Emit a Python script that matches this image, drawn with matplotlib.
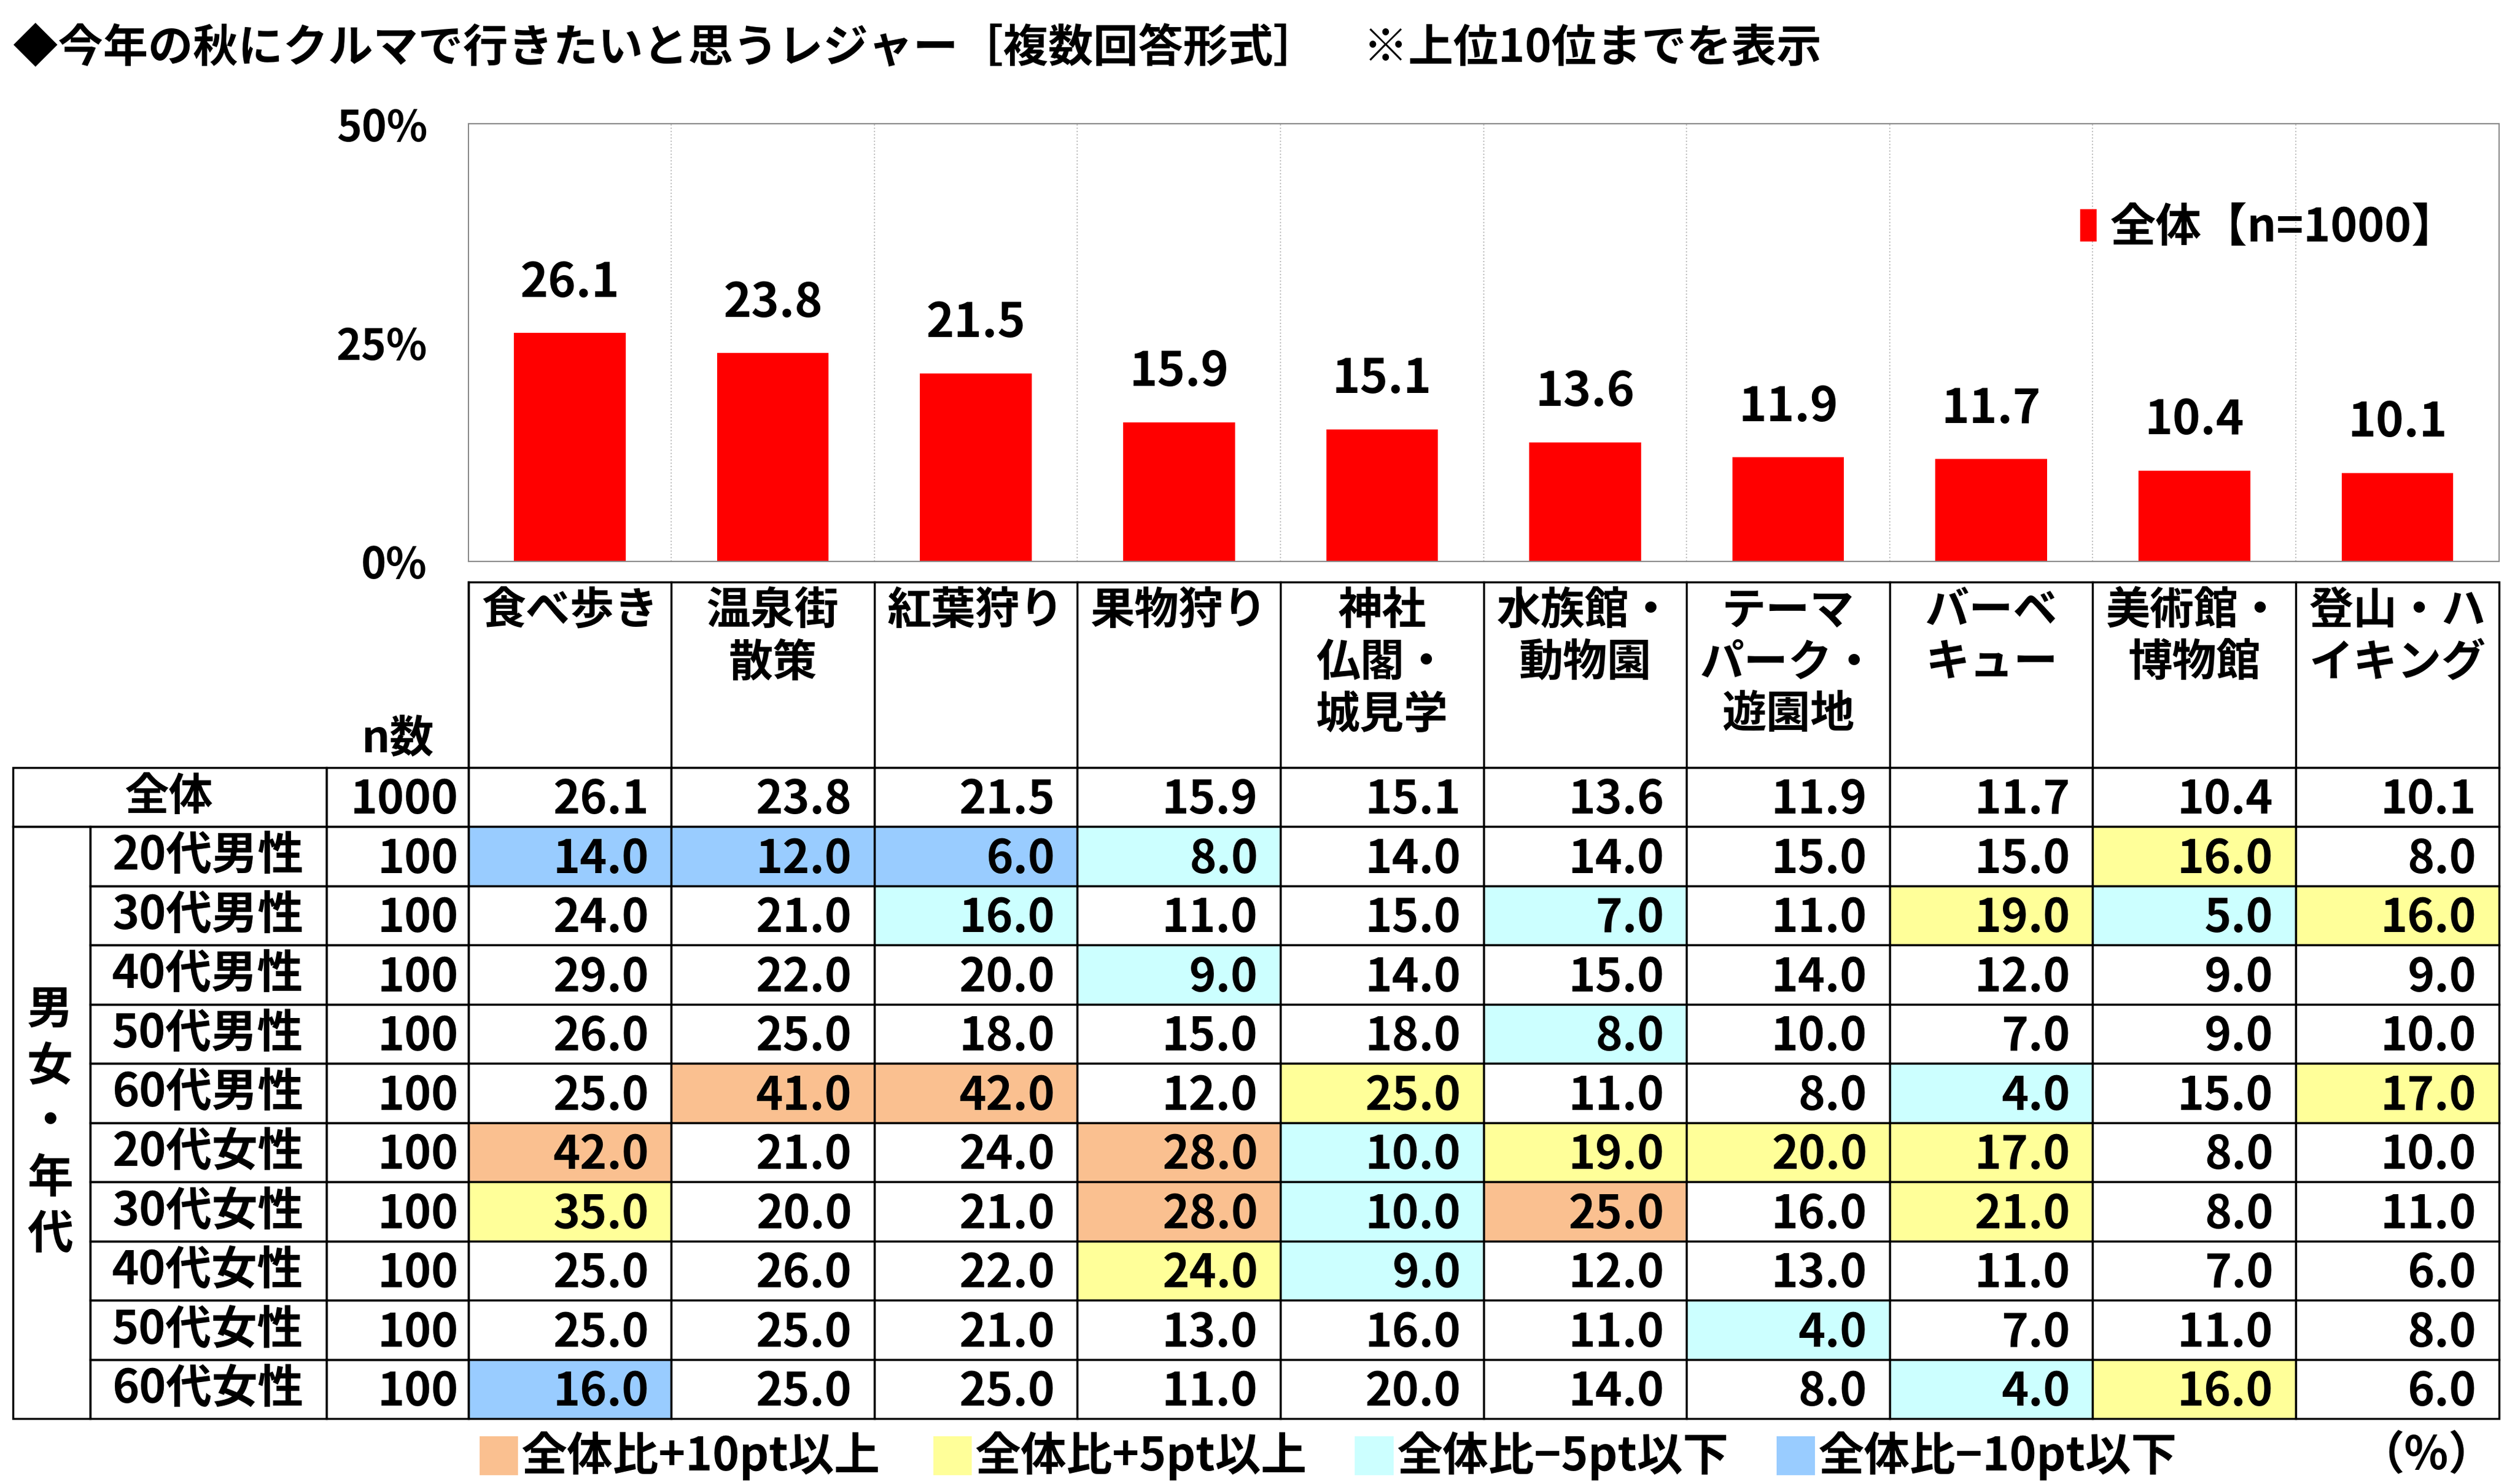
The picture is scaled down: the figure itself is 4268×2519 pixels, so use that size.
import matplotlib.pyplot as plt
from matplotlib.patches import Rectangle

plt.rcParams['font.family'] = 'Noto Sans CJK JP'
plt.rcParams['font.weight'] = 'bold'

categories = ['食べ歩き', '温泉街\n散策', '紅葉狩り', '果物狩り', '神社\n仏閣・\n城見学',
              '水族館・\n動物園', 'テーマ\nパーク・\n遊園地', 'バーベ\nキュー', '美術館・\n博物館', '登山・ハ\nイキング']
total = [26.1, 23.8, 21.5, 15.9, 15.1, 13.6, 11.9, 11.7, 10.4, 10.1]
groups = ['20代男性', '30代男性', '40代男性', '50代男性', '60代男性',
          '20代女性', '30代女性', '40代女性', '50代女性', '60代女性']
n_total = 1000
n_groups = [100] * 10
values = [
    [14, 12, 6, 8, 14, 14, 15, 15, 16, 8],
    [24, 21, 16, 11, 15, 7, 11, 19, 5, 16],
    [29, 22, 20, 9, 14, 15, 14, 12, 9, 9],
    [26, 25, 18, 15, 18, 8, 10, 7, 9, 10],
    [25, 41, 42, 12, 25, 11, 8, 4, 15, 17],
    [42, 21, 24, 28, 10, 19, 20, 17, 8, 10],
    [35, 20, 21, 28, 10, 25, 16, 21, 8, 11],
    [25, 26, 22, 24, 9, 12, 13, 11, 7, 6],
    [25, 25, 21, 13, 16, 11, 4, 7, 11, 8],
    [16, 25, 25, 11, 20, 14, 8, 4, 16, 6],
]

S = 4268 / 1563
W, H = 4268, 2519
fig = plt.figure(figsize=(W / 100, H / 100), dpi=100)
fig.patch.set_facecolor('white')

# overlay axes in reference display pixel coords
ov = fig.add_axes([0, 0, 1, 1])
ov.set_xlim(0, W / S)
ov.set_ylim(H / S, 0)
ov.axis('off')

ov.text(8, 30, '◆今年の秋にクルマで行きたいと思うレジャー［複数回答形式］　※上位10位までを表示',
        fontsize=55, va='center', ha='left')

# bar chart
x0, x1 = 291, 1553
y0, y50 = 349, 77
bax = fig.add_axes([x0 * S / W, 1 - y0 * S / H, (x1 - x0) * S / W, (y0 - y50) * S / H])
idx = list(range(len(total)))
bax.bar(idx, total, width=0.55, color='#FF0000', label='全体【n=1000】')
bax.set_xlim(-0.5, len(total) - 0.5)
bax.set_ylim(0, 50)
bax.set_yticks([0, 25, 50])
bax.set_yticklabels(['0%', '25%', '50%'], fontsize=52)
bax.set_xticks([])
for i in idx[:-1]:
    bax.axvline(i + 0.5, color='#BBBBBB', lw=1.5, ls=':')
for sp in bax.spines.values():
    sp.set_color('#888888')
    sp.set_linewidth(1.5)
bax.tick_params(axis='y', length=0, pad=50)
for i, v in zip(idx, total):
    bax.text(i, v + 3, f'{v:.1f}', ha='center', va='bottom', fontsize=58)
bax.legend(loc='upper right', bbox_to_anchor=(1.0, 0.91), frameon=False, fontsize=56,
           handlelength=0.35, handleheight=0.7, handletextpad=0.3)

# table
cw = (x1 - x0) / 10
hy0, hy1 = 362, 477
rh = (882 - 477) / 11
lw = 2.5
ov.add_patch(Rectangle((x0, hy0), x1 - x0, hy1 - hy0, fill=False, lw=lw))
for j, c in enumerate(categories):
    cx = x0 + cw * j
    ov.plot([cx, cx], [hy0, hy1], color='k', lw=lw)
    ov.text(cx + cw / 2, hy0 + 4, c, ha='center', va='top', fontsize=54, linespacing=1.2)
ov.text(247, 460, 'n数', ha='center', va='center', fontsize=54)


def color_for(v, t):
    d = v - t
    if d >= 10:
        return '#FAC090'
    if d >= 5:
        return '#FFFF99'
    if d <= -10:
        return '#99CCFF'
    if d <= -5:
        return '#CCFFFF'
    return 'white'


rows = [('全体', n_total, total)] + list(zip(groups, n_groups, values))
for r, (name, n, vals) in enumerate(rows):
    ry = hy1 + rh * r
    for j, v in enumerate(vals):
        fc = 'white' if r == 0 else color_for(v, total[j])
        ov.add_patch(Rectangle((x0 + cw * j, ry), cw, rh, facecolor=fc, edgecolor='k', lw=lw))
        ov.text(x0 + cw * (j + 1) - 14, ry + rh / 2 + 2, f'{v:.1f}', ha='right', va='center', fontsize=56)
    ov.add_patch(Rectangle((203, ry), x0 - 203, rh, fill=False, lw=lw))
    ov.text(x0 - 6, ry + rh / 2 + 2, str(n), ha='right', va='center', fontsize=56)
    if r == 0:
        ov.add_patch(Rectangle((8, ry), 195, rh, fill=False, lw=lw))
        ov.text(105, ry + rh / 2, name, ha='center', va='center', fontsize=54)
    else:
        ov.add_patch(Rectangle((56, ry), 147, rh, fill=False, lw=lw))
        ov.text(129, ry + rh / 2, name, ha='center', va='center', fontsize=56)
ov.add_patch(Rectangle((8, hy1 + rh), 48, rh * 10, fill=False, lw=lw))
ov.text(31, hy1 + rh * 6, '男\n女\n・\n年\n代', ha='center', va='center', fontsize=56, linespacing=1.25)

# color legend
leg = [('全体比+10pt以上', '#FAC090', 298), ('全体比+5pt以上', '#FFFF99', 580),
       ('全体比−5pt以下', '#CCFFFF', 842), ('全体比−10pt以下', '#99CCFF', 1104)]
for label, col, lx in leg:
    ov.add_patch(Rectangle((lx, 893), 24, 24, facecolor=col, edgecolor='none'))
    ov.text(lx + 26, 905, label, ha='left', va='center', fontsize=56)
ov.text(1550, 905, '（%）', ha='right', va='center', fontsize=56)

fig.savefig('out.png', dpi=100)
